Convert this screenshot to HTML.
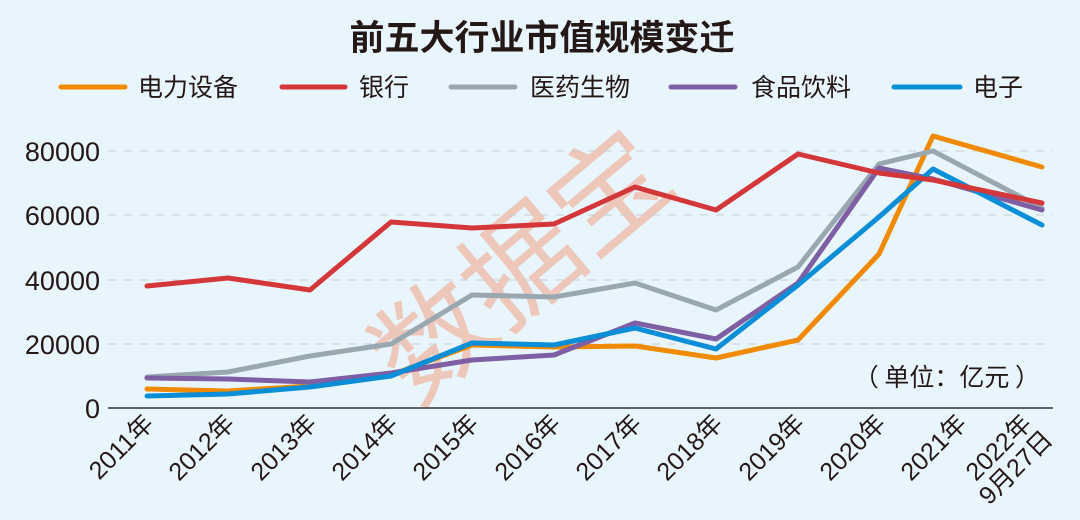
<!DOCTYPE html>
<html><head><meta charset="utf-8"><style>
body{margin:0;background:#e9f5fd;}
svg{display:block;font-family:"Liberation Sans","Noto Sans CJK SC",sans-serif;}
</style></head><body>
<svg width="1080" height="520" viewBox="0 0 1080 520">
<rect width="1080" height="520" fill="#e9f5fd"/>
<text x="542" y="50" text-anchor="middle" font-size="35" font-weight="bold" fill="#231815" font-family="Noto Sans CJK SC, sans-serif">前五大行业市值规模变迁</text>
<g font-size="25" fill="#231815" font-family="Noto Sans CJK SC, sans-serif">
<line x1="61" y1="87" x2="125" y2="87" stroke="#f08a00" stroke-width="5" stroke-linecap="round"/><text x="138" y="96">电力设备</text>
<line x1="282" y1="87" x2="345" y2="87" stroke="#d3373a" stroke-width="5" stroke-linecap="round"/><text x="359" y="96">银行</text>
<line x1="451" y1="87" x2="515" y2="87" stroke="#99a8b0" stroke-width="5" stroke-linecap="round"/><text x="530" y="96">医药生物</text>
<line x1="671" y1="87" x2="735" y2="87" stroke="#7e5fa3" stroke-width="5" stroke-linecap="round"/><text x="751" y="96">食品饮料</text>
<line x1="894" y1="87" x2="960" y2="87" stroke="#0a8ed8" stroke-width="5" stroke-linecap="round"/><text x="973" y="96">电子</text>
</g>
<text x="525" y="305" text-anchor="middle" font-size="115" fill="#eea98f" opacity="0.6" transform="rotate(-40 525 270)" font-family="Noto Sans CJK SC, sans-serif">数据宝</text>
<g stroke="#c8cdd0" stroke-width="1" stroke-dasharray="8,8">
<line x1="108" y1="151" x2="1053" y2="151"/><line x1="108" y1="215" x2="1053" y2="215"/><line x1="108" y1="280" x2="1053" y2="280"/><line x1="108" y1="344" x2="1053" y2="344"/>
</g>
<line x1="108" y1="408" x2="1053" y2="408" stroke="#333" stroke-width="1.5"/>
<g font-size="27" fill="#231815" text-anchor="end">
<text x="100" y="161">80000</text><text x="100" y="225">60000</text><text x="100" y="290">40000</text><text x="100" y="354">20000</text><text x="100" y="418">0</text>
</g>
<text x="1040" y="386" text-anchor="end" font-size="25" fill="#231815" font-family="Noto Sans CJK SC, sans-serif">（ 单位：亿元 ）</text>
<g fill="none" stroke-width="5" stroke-linejoin="round" stroke-linecap="round">
<polyline stroke="#f08a00" points="147,389 228,391 310,386 391,375 472,345 554,347 635,346 716,358 798,340 879,254 933,136 1042,167"/>
<polyline stroke="#99a8b0" points="147,377 228,372 310,356 391,344 472,295 554,297 635,283 716,310 798,267 879,164 933,151 1042,208"/>
<polyline stroke="#7e5fa3" points="147,378 228,379 310,382 391,373 472,360 554,355 635,323 716,339 798,283 879,168 933,179 1042,210"/>
<polyline stroke="#0a8ed8" points="147,396 228,394 310,387 391,376 472,343 554,345 635,328 716,349 798,285 879,217 933,169 1042,225"/>
<polyline stroke="#d3373a" points="147,286 228,278 310,290 391,222 472,228 554,224 635,187 716,210 798,154 879,173 933,180 1042,203"/>
</g>
<g font-size="25" fill="#231815" text-anchor="end">
<text transform="translate(155,425) rotate(-45)">2011年</text>
<text transform="translate(236,425) rotate(-45)">2012年</text>
<text transform="translate(318,425) rotate(-45)">2013年</text>
<text transform="translate(399,425) rotate(-45)">2014年</text>
<text transform="translate(480,425) rotate(-45)">2015年</text>
<text transform="translate(562,425) rotate(-45)">2016年</text>
<text transform="translate(643,425) rotate(-45)">2017年</text>
<text transform="translate(724,425) rotate(-45)">2018年</text>
<text transform="translate(806,425) rotate(-45)">2019年</text>
<text transform="translate(887,425) rotate(-45)">2020年</text>
<text transform="translate(968,425) rotate(-45)">2021年</text>
<text transform="translate(1033,425) rotate(-45)">2022年</text>
<text transform="translate(1054,441) rotate(-45)">9月27日</text>
</g>
</svg>
</body></html>
